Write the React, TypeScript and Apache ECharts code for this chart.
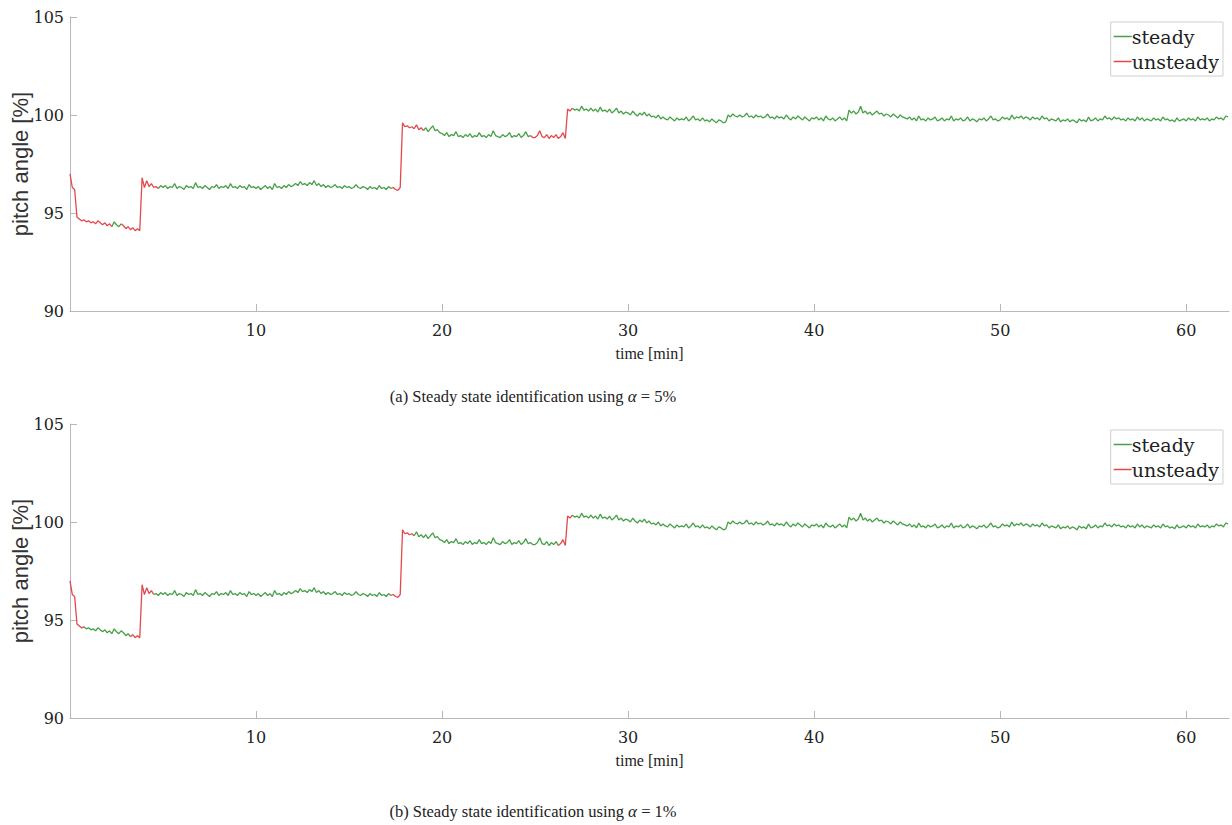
import React, { useEffect, useRef } from "react";
import * as echarts from "echarts";

// sampling step of the recorded signal (minutes)
const SAMPLE_STEP_MIN = 0.125;

// pitch angle [%], one value every 0.125 min, t = 0 ... 62.25 min (8 values per minute per row)
const pitchAngle: number[] = [
  // 0 - 4.875
  97.0, 96.3, 96.2, 94.8, 94.7, 94.6, 94.65, 94.55,
  94.6, 94.5, 94.55, 94.45, 94.6, 94.5, 94.4, 94.5,
  94.35, 94.45, 94.3, 94.55, 94.4, 94.3, 94.45, 94.35,
  94.2, 94.3, 94.15, 94.25, 94.1, 94.2, 94.1, 96.8,
  96.3, 96.65, 96.35, 96.5, 96.3, 96.35, 96.25, 96.4,
  // 5 - 9.875
  96.3, 96.4, 96.25, 96.35, 96.3, 96.5, 96.25, 96.35,
  96.3, 96.2, 96.4, 96.3, 96.35, 96.25, 96.55, 96.3,
  96.35, 96.25, 96.4, 96.3, 96.2, 96.35, 96.3, 96.45,
  96.25, 96.35, 96.3, 96.4, 96.25, 96.5, 96.3, 96.35,
  96.25, 96.4, 96.3, 96.35, 96.2, 96.45, 96.3, 96.35,
  // 10 - 14.875
  96.25, 96.35, 96.2, 96.3, 96.4, 96.25, 96.35, 96.2,
  96.5, 96.3, 96.35, 96.25, 96.4, 96.3, 96.45, 96.35,
  96.4, 96.5, 96.4, 96.6, 96.45, 96.5, 96.4, 96.55,
  96.45, 96.65, 96.4, 96.5, 96.35, 96.45, 96.3, 96.4,
  96.3, 96.35, 96.45, 96.3, 96.35, 96.25, 96.4, 96.3,
  // 15 - 19.875
  96.35, 96.25, 96.3, 96.45, 96.3, 96.25, 96.35, 96.3,
  96.2, 96.35, 96.25, 96.3, 96.2, 96.4, 96.25, 96.3,
  96.2, 96.35, 96.25, 96.3, 96.2, 96.15, 96.3, 99.6,
  99.4, 99.45, 99.35, 99.4, 99.3, 99.5, 99.25, 99.35,
  99.2, 99.35, 99.15, 99.3, 99.45, 99.2, 99.25, 99.1,
  // 20 - 24.875
  99.05, 98.95, 99.1, 98.9, 99.0, 98.95, 99.15, 98.9,
  98.95, 98.85, 99.0, 98.9, 99.05, 98.85, 98.95, 98.9,
  99.1, 98.9, 98.95, 98.85, 99.0, 98.9, 99.2, 98.95,
  98.9, 98.85, 99.0, 98.9, 98.95, 99.1, 98.85, 98.95,
  98.9, 99.05, 98.85, 98.95, 99.15, 98.9, 98.95, 98.85,
  // 25 - 29.875
  98.85, 98.95, 99.2, 98.9, 98.85, 99.0, 98.8, 98.95,
  98.85, 99.0, 98.8, 98.9, 99.1, 98.8, 100.3, 100.2,
  100.35, 100.25, 100.3, 100.2, 100.45, 100.25, 100.3, 100.2,
  100.35, 100.2, 100.3, 100.15, 100.4, 100.2, 100.25, 100.15,
  100.3, 100.1, 100.2, 100.35, 100.1, 100.2, 100.05, 100.15,
  // 30 - 34.875
  100.1, 100.0, 100.2, 100.05, 99.95, 100.1, 100.0, 100.15,
  99.95, 100.05, 99.9, 99.95, 99.85, 100.0, 99.8, 99.9,
  99.8, 99.75, 99.9, 99.8, 99.7, 99.85, 99.75, 99.8,
  99.75, 99.9, 99.7, 99.8, 99.95, 99.75, 99.8, 99.7,
  99.85, 99.7, 99.75, 99.65, 99.8, 99.7, 99.6, 99.75,
  // 35 - 39.875
  99.7, 99.6, 99.65, 100.0, 99.9, 100.05, 99.95, 99.9,
  100.0, 99.9, 99.95, 100.1, 99.9, 99.95, 99.85, 100.0,
  99.9, 99.95, 99.85, 99.9, 100.05, 99.85, 99.9, 99.8,
  99.95, 99.85, 99.9, 99.8, 100.0, 99.85, 99.75, 99.9,
  99.8, 99.95, 99.85, 99.75, 99.9, 99.8, 99.7, 99.85,
  // 40 - 44.875
  99.8, 99.9, 99.75, 99.85, 99.7, 99.95, 99.8, 99.75,
  99.85, 99.7, 99.8, 99.9, 99.75, 99.85, 99.7, 100.25,
  100.1, 100.2, 100.05, 100.15, 100.45, 100.1, 100.2, 100.05,
  100.15, 100.0, 100.1, 100.2, 100.05, 100.1, 99.95, 100.05,
  100.0, 99.9, 100.05, 99.95, 99.85, 100.0, 99.9, 99.85,
  // 45 - 49.875
  99.8, 99.9, 99.75, 99.85, 99.7, 99.95, 99.75, 99.8,
  99.7, 99.85, 99.75, 99.8, 99.9, 99.7, 99.75, 99.85,
  99.7, 99.8, 99.75, 99.95, 99.7, 99.8, 99.75, 99.85,
  99.7, 99.75, 99.9, 99.7, 99.8, 99.75, 99.65, 99.8,
  99.75, 99.85, 99.7, 99.8, 99.95, 99.75, 99.8, 99.7,
  // 50 - 54.875
  99.75, 99.9, 99.8, 99.85, 99.75, 100.0, 99.8, 99.9,
  99.85, 99.95, 99.8, 99.9, 99.85, 99.75, 99.9, 99.8,
  99.85, 99.75, 99.95, 99.8, 99.85, 99.7, 99.8, 99.75,
  99.7, 99.85, 99.65, 99.75, 99.7, 99.8, 99.65, 99.75,
  99.7, 99.6, 99.8, 99.7, 99.75, 99.65, 99.9, 99.7,
  // 55 - 59.875
  99.75, 99.85, 99.7, 99.8, 99.75, 99.95, 99.8, 99.85,
  99.75, 99.9, 99.8, 99.85, 99.75, 99.8, 99.7, 99.85,
  99.75, 99.8, 99.7, 99.9, 99.75, 99.85, 99.7, 99.8,
  99.75, 99.7, 99.85, 99.75, 99.8, 99.7, 99.9, 99.75,
  99.8, 99.7, 99.75, 99.65, 99.85, 99.7, 99.75, 99.8,
  // 60 - 62.25
  99.7, 99.85, 99.75, 99.8, 99.7, 99.9, 99.75, 99.8,
  99.75, 99.85, 99.7, 99.8, 99.75, 99.9, 99.8, 99.85,
  99.75, 99.95, 99.9,
];

// classification intervals [start, end] in minutes
const steadyA: [number, number][] = [[2.25, 2.75], [4.75, 17.25], [19.0, 24.75], [27.0, 62.25]];
const unsteadyA: [number, number][] = [[0, 2.25], [2.75, 4.75], [17.25, 19.0], [24.75, 27.0]];
const steadyB: [number, number][] = [[0.75, 3.25], [4.5, 17.25], [18.5, 26.25], [27.0, 62.25]];
const unsteadyB: [number, number][] = [[0, 0.75], [3.25, 4.5], [17.25, 18.5], [26.25, 27.0]];

const xTicks = [10, 20, 30, 40, 50, 60];
const yTicks = [90, 95, 100, 105];
const legendNames = ["steady", "unsteady"];
const captionA = "(a) Steady state identification using {i|α} = 5%";
const captionB = "(b) Steady state identification using {i|α} = 1%";

const GREEN = "#46a046";
const RED = "#e4474c";
const AXIS_GRAY = "#b8b8b8";
const TEXT = "#222222";

function buildData(segs: [number, number][]) {
  return pitchAngle.map((v, i) => {
    const t = +(i * SAMPLE_STEP_MIN).toFixed(4);
    const on = segs.some(([a, b]) => t >= a - 1e-9 && t <= b + 1e-9);
    return [t, on ? v : null];
  });
}

function xAxisFor(gridIndex: number) {
  return {
    type: "value",
    gridIndex,
    min: 0,
    max: 62.3,
    axisLine: { show: true, lineStyle: { color: AXIS_GRAY, width: 1 } },
    axisTick: { show: true, inside: true, length: 7, customValues: xTicks, lineStyle: { color: AXIS_GRAY } },
    axisLabel: { customValues: xTicks, fontFamily: "DejaVu Serif", fontSize: 16, color: TEXT, margin: 11 },
    splitLine: { show: false },
    name: "time [min]",
    nameLocation: "middle",
    nameGap: 34,
    nameTextStyle: { fontFamily: "Liberation Serif", fontSize: 16, color: TEXT },
  };
}

function yAxisFor(gridIndex: number) {
  return {
    type: "value",
    gridIndex,
    min: 90,
    max: 105,
    axisLine: { show: true, lineStyle: { color: AXIS_GRAY, width: 1 } },
    axisTick: { show: true, inside: true, length: 7, customValues: yTicks, lineStyle: { color: AXIS_GRAY } },
    axisLabel: { customValues: yTicks, fontFamily: "DejaVu Serif", fontSize: 16, color: TEXT, margin: 6 },
    splitLine: { show: false },
    name: "pitch angle [%]",
    nameLocation: "middle",
    nameGap: 39,
    nameMoveOverlap: false,
    nameTextStyle: { fontFamily: "Liberation Sans", fontSize: 22, color: "#333" },
  };
}

function lineSeries(name: string, color: string, idx: number, segs: [number, number][]) {
  return {
    name,
    type: "line",
    xAxisIndex: idx,
    yAxisIndex: idx,
    data: buildData(segs),
    showSymbol: false,
    symbol: "none",
    connectNulls: false,
    color,
    lineStyle: { color, width: 1.3 },
    emphasis: { disabled: true },
  };
}

function legendFor(top: number) {
  return {
    data: legendNames,
    orient: "vertical",
    right: 9,
    top,
    icon: "rect",
    itemWidth: 18,
    itemHeight: 1.5,
    itemGap: 6,
    padding: [5, 4, 5, 3],
    borderColor: "#cfcfcf",
    borderWidth: 1,
    backgroundColor: "#fff",
    textStyle: { fontFamily: "DejaVu Serif", fontSize: 19, color: TEXT, padding: [0, 0, 0, -5] },
  };
}

function caption(text: string, y: number) {
  return {
    type: "text",
    x: 533,
    y,
    style: {
      text,
      fontFamily: "Liberation Serif",
      fontSize: 16.5,
      fill: TEXT,
      align: "center",
      verticalAlign: "middle",
      rich: { i: { fontFamily: "Liberation Serif", fontStyle: "italic", fontSize: 17, fill: TEXT } },
    },
  };
}

export default function App() {
  const ref = useRef<HTMLDivElement>(null);
  useEffect(() => {
    document.body.style.margin = "0";
    const chart = echarts.init(ref.current!, null, { renderer: "svg" });
    chart.setOption({
      animation: false,
      backgroundColor: "#ffffff",
      grid: [
        { left: 70, width: 1159, top: 17, height: 294, containLabel: false, outerBoundsMode: "none" },
        { left: 70, width: 1159, top: 424, height: 294, containLabel: false, outerBoundsMode: "none" },
      ],
      xAxis: [xAxisFor(0), xAxisFor(1)],
      yAxis: [yAxisFor(0), yAxisFor(1)],
      legend: [legendFor(22), legendFor(430)],
      series: [
        lineSeries("steady", GREEN, 0, steadyA),
        lineSeries("unsteady", RED, 0, unsteadyA),
        lineSeries("steady", GREEN, 1, steadyB),
        lineSeries("unsteady", RED, 1, unsteadyB),
      ],
      graphic: [caption(captionA, 396), caption(captionB, 811)],
    });
    return () => chart.dispose();
  }, []);
  return <div ref={ref} style={{ width: 1232, height: 825, position: "absolute", left: 0, top: 0 }} />;
}
